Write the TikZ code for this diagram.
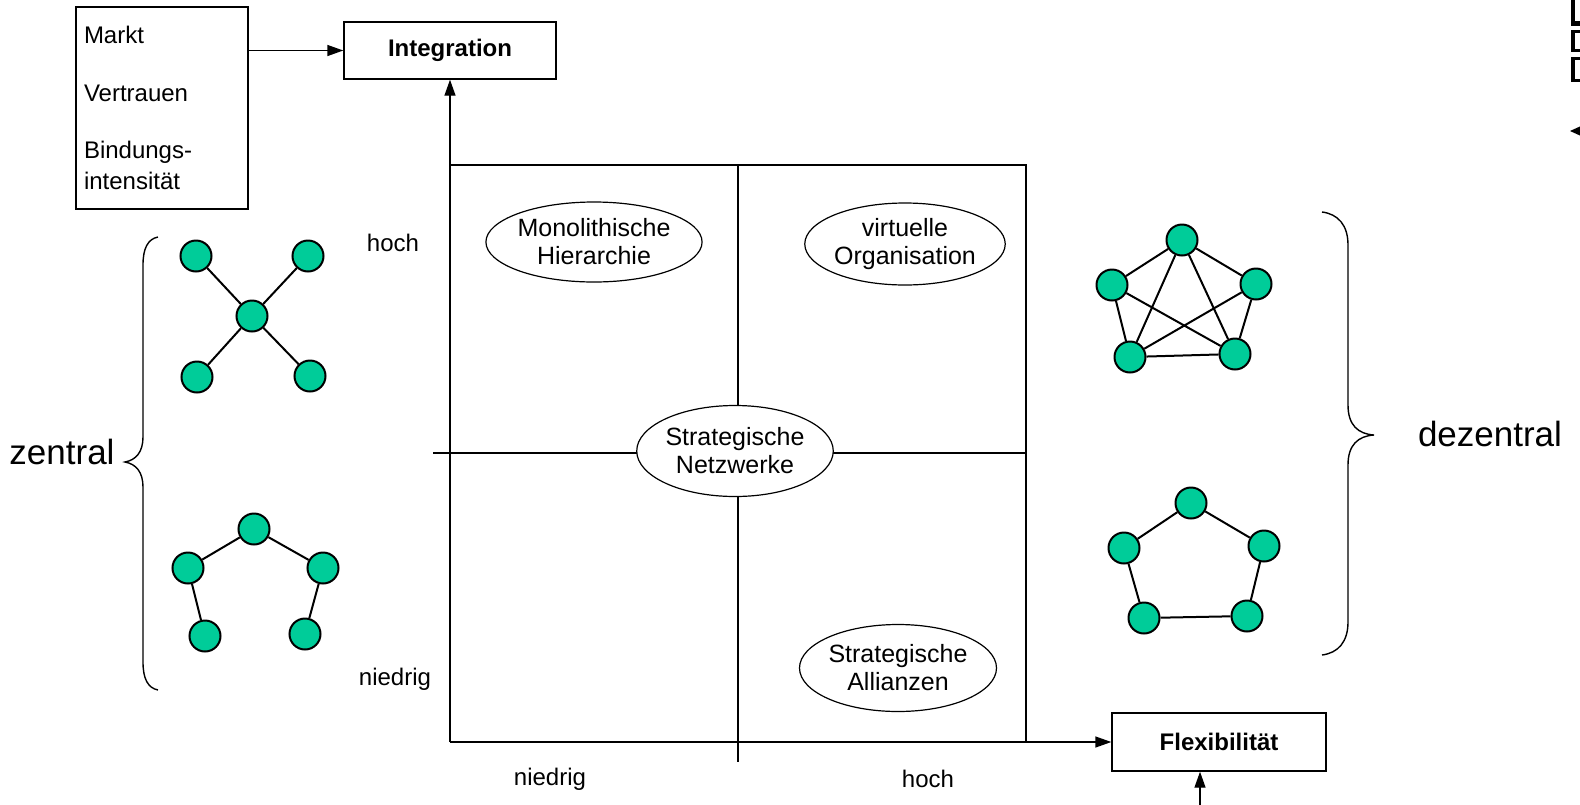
\documentclass[tikz,border=0pt]{standalone}
\usepackage{fontspec}
\setmainfont{Liberation Sans}
\usetikzlibrary{arrows.meta,shapes.geometric}
\definecolor{nodegreen}{RGB}{0,204,153}
\begin{document}
\begin{tikzpicture}[x=1pt,y=-1pt,
  txt/.style={font=\fontsize{24}{30}\selectfont, inner sep=0pt},
  bigtxt/.style={font=\fontsize{35}{40}\selectfont, inner sep=0pt},
  boxnode/.style={draw, line width=1.4pt, inner sep=0pt, font=\fontsize{24}{30}\selectfont\bfseries},
  ell/.style={draw, ellipse, fill=white, line width=1.2pt, inner sep=0pt, align=center, font=\fontsize{25}{28}\selectfont},
  nd/.style={circle, draw, fill=nodegreen, line width=2pt, minimum size=31pt, inner sep=0pt},
  ed/.style={line width=2pt},
  ln/.style={line width=1.4pt},
  arr/.style={line width=1.4pt, -{Triangle[length=16pt,width=11pt]}}
]
\useasboundingbox (0,0) rectangle (1580,804);

% factor box
\node[draw, line width=1.4pt, minimum width=172pt, minimum height=202pt, inner sep=8pt,
      text width=156pt, align=left, font=\fontsize{24}{31}\selectfont]
  (factors) at (162,108) {Markt\\[27pt]Vertrauen\\[26pt]Bindungs-\\intensität};

% axis boxes
\node[boxnode, minimum width=212pt, minimum height=57pt] (integ) at (450,50.5) {Integration};
\node[boxnode, minimum width=214pt, minimum height=58pt] (flex) at (1219,742) {Flexibilität};

% matrix
\coordinate (origin) at (450,742);
\coordinate (bottomin) at (1200,810);
\draw[ln] (450,165) -- (1026,165) -- (1026,742);
\draw[ln] (433,453) -- (1026,453);
\draw[ln] (738,165) -- (738,762);
\draw[arr] (origin) -- (integ.south);
\draw[arr] (origin) -- (flex.west);
\draw[arr] (bottomin) -- (bottomin |- flex.south);
\draw[arr] (factors.east |- integ.west) -- (integ.west);

% ellipses
\node[ell, minimum width=196pt, minimum height=80pt] (mono) at (594,242) {Monolithische\\Hierarchie};
\node[ell, minimum width=185pt, minimum height=82pt] (virt) at (905,244) {virtuelle\\Organisation};
\node[ell, minimum width=190pt, minimum height=91pt] (netz) at (735,451) {Strategische\\Netzwerke};
\node[ell, minimum width=197pt, minimum height=87pt] (alli) at (898,668) {Strategische\\Allianzen};

% axis labels
\node[txt] (yhoch) at (393,243) {hoch};
\node[txt] (yniedrig) at (395,679) {niedrig};
\node[txt] (xniedrig) at (550,779) {niedrig};
\node[txt] (xhoch) at (928,779) {hoch};

% star network
\node[nd] (s0) at (252,316) {};
\node[nd] (s1) at (196,256) {};
\node[nd] (s2) at (308,256) {};
\node[nd] (s3) at (197,377) {};
\node[nd] (s4) at (310,376) {};
\draw[ed] (s0) -- (s1) (s0) -- (s2) (s0) -- (s3) (s0) -- (s4);

% tree network
\node[nd] (t0) at (254,529) {};
\node[nd] (t1) at (188,568) {};
\node[nd] (t2) at (323,568) {};
\node[nd] (t3) at (205,636) {};
\node[nd] (t4) at (305,634) {};
\draw[ed] (t0) -- (t1) (t0) -- (t2) (t1) -- (t3) (t2) -- (t4);

% full network
\node[nd] (f0) at (1182,240) {};
\node[nd] (f1) at (1112,285) {};
\node[nd] (f2) at (1256,284) {};
\node[nd] (f3) at (1130,357) {};
\node[nd] (f4) at (1235,354) {};
\draw[ed] (f0) -- (f1) (f0) -- (f2) (f1) -- (f3) (f2) -- (f4) (f3) -- (f4)
          (f0) -- (f3) (f0) -- (f4) (f1) -- (f4) (f2) -- (f3);

% ring network
\node[nd] (r0) at (1191,503) {};
\node[nd] (r1) at (1124,548) {};
\node[nd] (r2) at (1264,546) {};
\node[nd] (r3) at (1144,618) {};
\node[nd] (r4) at (1247,616) {};
\draw[ed] (r0) -- (r1) (r0) -- (r2) (r1) -- (r3) (r2) -- (r4) (r3) -- (r4);

% braces
\draw[ln] (158,237) .. controls (148,239) and (143,248) .. (143,265) -- (143,437)
  .. controls (143,452) and (136,460) .. (125,462)
  .. controls (136,464) and (143,472) .. (143,487) -- (143,662)
  .. controls (143,679) and (148,688) .. (158,690);
\draw[ln] (1322,212) .. controls (1338,214) and (1348,225) .. (1348,245) -- (1348,405)
  .. controls (1348,425) and (1358,434) .. (1374,435)
  .. controls (1358,436) and (1348,445) .. (1348,465) -- (1348,622)
  .. controls (1348,642) and (1338,653) .. (1322,655);
\node[bigtxt] (zentral) at (62,452) {zentral};
\node[bigtxt] (dezentral) at (1490,434) {dezentral};

% clipped fragment at the top right corner
\fill (1571,0) rectangle (1575,26);
\fill (1575,21) rectangle (1580,26);
\fill (1571,30) rectangle (1575,52);
\fill (1575,30) rectangle (1580,33);
\fill (1575,49) rectangle (1580,52);
\fill (1571,57) rectangle (1575,82);
\fill (1575,57) rectangle (1580,60);
\fill (1575,79) rectangle (1580,82);
\fill (1570,131) -- (1581,126) -- (1581,136) -- cycle;
\end{tikzpicture}
\end{document}
